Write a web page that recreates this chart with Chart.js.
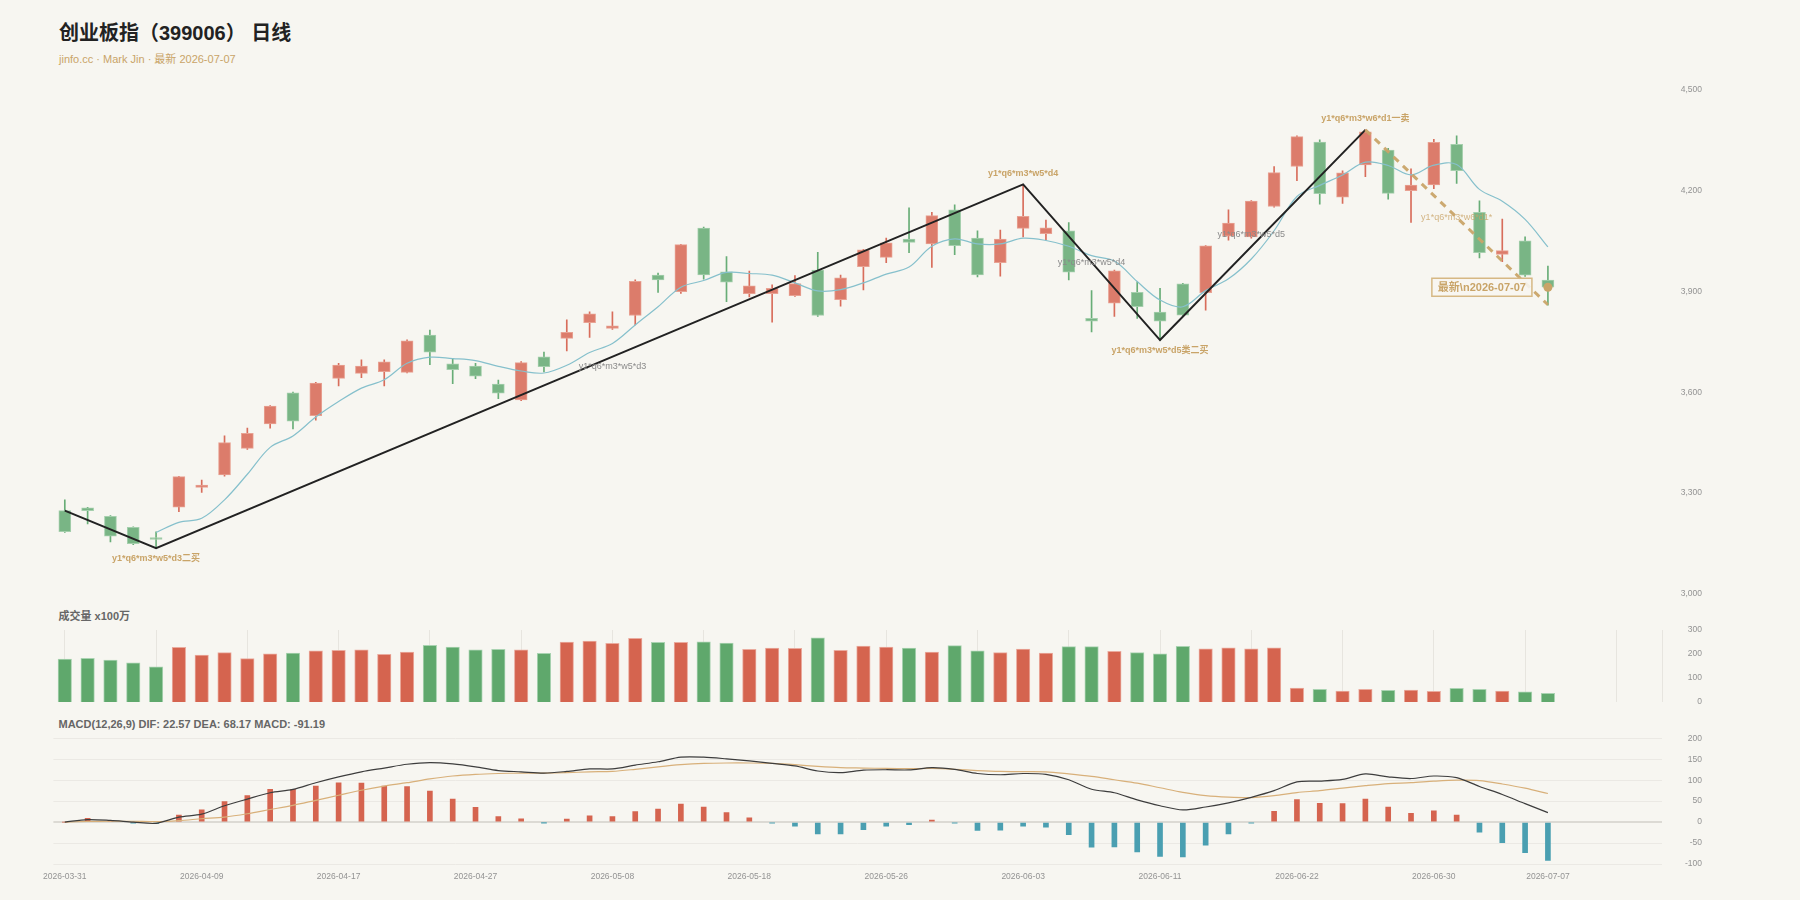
<!DOCTYPE html>
<html><head><meta charset="utf-8">
<script src="https://cdn.jsdelivr.net/npm/chart.js@4.4.1/dist/chart.umd.min.js"></script>
<style>
html,body{margin:0;padding:0;background:#f7f6f1;}
#wrap{position:relative;width:1800px;height:900px;background:#f7f6f1;font-family:"Liberation Sans","Noto Sans CJK SC",sans-serif;overflow:hidden;}
canvas{position:absolute;left:0;}
.t{position:absolute;white-space:nowrap;}
</style></head><body>
<div id="wrap">
<div class="t" style="left:59px;top:23px;font-size:20px;line-height:20px;font-weight:bold;color:#222;">创业板指（399006） 日线</div>
<div class="t" style="left:59px;top:54px;font-size:11px;line-height:11px;color:#c9a468;">jinfo.cc · Mark Jin · 最新 2026-07-07</div>
<div class="t" style="left:58.5px;top:611px;font-size:11px;line-height:11px;font-weight:bold;color:#666;">成交量 x100万</div>
<div class="t" style="left:58.5px;top:719px;font-size:11px;line-height:11px;font-weight:bold;color:#666;">MACD(12,26,9) DIF: 22.57 DEA: 68.17 MACD: -91.19</div>
<canvas id="cPrice" width="1800" height="610" style="top:0px"></canvas>
<canvas id="cVol" width="1800" height="150" style="top:590px"></canvas>
<canvas id="cMacd" width="1800" height="180" style="top:720px"></canvas>
</div>
<script>
// ---------------- data ----------------
const dates = ['2026-03-31','2026-04-01','2026-04-02','2026-04-03','2026-04-07','2026-04-08','2026-04-09','2026-04-10','2026-04-13','2026-04-14','2026-04-15','2026-04-16','2026-04-17','2026-04-20','2026-04-21','2026-04-22','2026-04-23','2026-04-24','2026-04-27','2026-04-28','2026-04-29','2026-04-30','2026-05-06','2026-05-07','2026-05-08','2026-05-11','2026-05-12','2026-05-13','2026-05-14','2026-05-15','2026-05-18','2026-05-19','2026-05-20','2026-05-21','2026-05-22','2026-05-25','2026-05-26','2026-05-27','2026-05-28','2026-05-29','2026-06-01','2026-06-02','2026-06-03','2026-06-04','2026-06-05','2026-06-08','2026-06-09','2026-06-10','2026-06-11','2026-06-12','2026-06-15','2026-06-16','2026-06-17','2026-06-18','2026-06-22','2026-06-23','2026-06-24','2026-06-25','2026-06-26','2026-06-29','2026-06-30','2026-07-01','2026-07-02','2026-07-03','2026-07-06','2026-07-07'];
const opens  = [3248,3256,3231,3198,3163,3258,3317,3354,3433,3506,3598,3530,3641,3656,3661,3659,3770,3684,3678,3624,3577,3705,3760,3807,3790,3828,3948,3899,4088,3958,3893,3893,3887,3963,3875,3973,4001,4055,4041,4142,4058,3985,4087,4071,4080,3820,3865,3897,3838,3922,3896,4064,4062,4152,4271,4344,4180,4276,4320,4199,4216,4337,4135,4010,4050,3933];
const highs  = [3280,3258,3233,3200,3185,3350,3339,3470,3493,3560,3600,3629,3686,3696,3696,3756,3785,3700,3686,3636,3691,3719,3815,3839,3839,3934,3954,4040,4091,4003,3960,3919,3947,4016,3948,4025,4058,4148,4135,4157,4080,4082,4218,4112,4104,3902,3963,3928,3909,3924,4036,4142,4170,4271,4362,4350,4258,4380,4325,4264,4352,4362,4169,4115,4062,3975];
const lows   = [3183,3208,3155,3147,3136,3245,3302,3350,3430,3493,3491,3517,3619,3643,3619,3657,3682,3625,3640,3581,3575,3660,3723,3763,3787,3800,3897,3894,3936,3869,3883,3808,3885,3825,3856,3904,3985,4015,3971,4009,3943,3945,4062,4053,3934,3779,3825,3819,3755,3826,3844,4052,4058,4150,4229,4159,4161,4241,4174,4105,4205,4221,3999,3988,3944,3859];
const closes = [3185,3248,3172,3150,3162,3349,3324,3450,3478,3559,3514,3627,3681,3678,3690,3753,3719,3667,3648,3597,3688,3676,3778,3833,3797,3930,3934,4039,3949,3927,3916,3909,3923,3828,3940,4023,4044,4045,4125,4036,3949,4055,4123,4089,3957,3811,3961,3854,3811,3829,4035,4103,4168,4253,4360,4190,4252,4374,4191,4216,4343,4259,4015,4021,3948,3912];
const ma5 = [null,null,null,null,3183,3213,3225,3280,3356,3436,3470,3526,3572,3612,3637,3686,3704,3700,3694,3677,3663,3657,3680,3718,3745,3800,3854,3912,3932,3956,3953,3948,3925,3901,3905,3925,3951,3972,4034,4056,4041,4041,4058,4051,4034,4006,3990,3929,3874,3854,3902,3937,3996,4080,4182,4215,4246,4284,4274,4246,4275,4277,4203,4168,4114,4032];
const volumes = [179,182,175,163,147,228,196,206,181,201,204,213,215,217,199,208,236,229,217,219,217,203,250,254,244,265,249,249,251,246,219,225,224,267,215,233,229,225,208,235,213,206,221,204,231,231,211,206,201,232,222,226,222,226,58,53,46,53,49,50,44,57,53,46,42,36];
const dif = [0,6,4,0,-3,12,19,39,55,70,78,94,108,120,129,138,142,139,132,123,120,117,121,127,127,136,144,155,155,151,146,140,134,122,118,124,125,124.5,130,126,116,113,116,114,101,78.5,70,53,39,29,36,46,59,75,96,98,102,115,108,104,110,106,85,66,44,22.57];
const dea = [0,1.5,2,2,1,3.5,8,12,20,30,40,52,64,76,86,94,103,110,114,116,117,117,118,120,121,126,132,137,140,141,141,140,137,133,130,129,128,127.6,128,126,123,121,120.5,120,115,109,101,93,82,71,63,59.5,58.6,63,70.5,75,81,87,92,94,97.6,100,99,91,81,68.17];
const macdHist = [0,9,3,-2,-4,17,29,49,63,78,78,86,94,93,86,85,74,55,35,13,8,-1,7,15,13,25,31,43,36,23,10,-1.5,-10,-28,-28,-18,-10,-6,5,-2,-20,-19,-10,-12,-30,-60,-59,-71,-82,-83,-55,-28,-1.5,26,54,45,44,55,36,21,27,17,-24,-49,-73,-91.19];
const xTickIdx = [0,6,12,18,24,30,36,42,48,54,60,65];
const volGridIdx = [0,4,8,12,16,20,24,28,32,36,40,44,48,52,56,60,64,68,70];
const priceTicks = [3000,3300,3600,3900,4200,4500];
const volTicks = [0,100,200,300];
const macdTicks = [-100,-50,0,50,100,150,200];
const zzIdx = [0,4,42,48,57];
const zzVal = [3248,3136,4218,3755,4380];
const dashIdx = [57,65];
const dashVal = [4380,3860];
const lblIdx  = [4,24,42,45,48,52,57,61];
const lblVal  = [3136,3677,4218,3987,3755,4068,4380,4120];
const lblText = ['y1*q6*m3*w5*d3二买','y1*q6*m3*w5*d3','y1*q6*m3*w5*d4','y1*q6*m3*w5*d4','y1*q6*m3*w5*d5类二买','y1*q6*m3*w5*d5','y1*q6*m3*w6*d1一卖','y1*q6*m3*w6*d1*'];
const lblKind = ['below','mid','above','mid','below','mid','above','faint'];
const lastLabel = '最新\\n2026-07-07';

// ---------------- styling ----------------
const FONT = '"Liberation Sans","Noto Sans CJK SC",sans-serif';
const TAN = '#c9a468';
const RED = '#d5644f', GREEN = '#5fa86c';
const RED_C = '#dc7c6b', GREEN_C = '#79b585';
const TICK_SIZE = 8.5;
const X_MIN = -0.5, X_MAX = 70;
const AXIS_W = 40, LABEL_RIGHT = 29;

const mctx = document.createElement('canvas').getContext('2d');
mctx.font = TICK_SIZE + 'px ' + FONT;
function padFor(labels){ let w=0; labels.forEach(l=>{w=Math.max(w,mctx.measureText(l).width);}); return LABEL_RIGHT - w; }

const fmtPrice = v => Number(v).toLocaleString('en-US');
const up = closes.map((c,i)=>c>=opens[i]);

function xHidden(){
  return {type:'linear', min:X_MIN, max:X_MAX, offset:false, display:false, grid:{display:false, offset:false}};
}
function yAxis(min,max,ticks,fmt,grid){
  return {
    type:'linear', position:'right', min:min, max:max,
    afterBuildTicks: s => { s.ticks = ticks.map(v=>({value:v})); },
    afterFit: s => { s.width = AXIS_W; },
    grid: Object.assign({display:false, drawTicks:false}, grid||{}),
    border:{display:false},
    ticks:{crossAlign:'far', padding: padFor(ticks.map(fmt)), color:'#939393', font:{family:FONT, size:TICK_SIZE}, callback: v=>fmt(v)}
  };
}

Chart.defaults.animation = false;
Chart.defaults.font.family = FONT;

// ---------------- annotations plugin ----------------
const annotPlugin = {
  id:'annot',
  afterDatasetsDraw(chart){
    const {ctx, scales:{x, y}} = chart;
    ctx.save();
    ctx.textAlign = 'center';
    ctx.textBaseline = 'middle';
    lblIdx.forEach((ix,k)=>{
      const px = x.getPixelForValue(ix), py = y.getPixelForValue(lblVal[k]);
      const kind = lblKind[k];
      if (kind === 'mid') { ctx.font = '9px ' + FONT; ctx.fillStyle = '#8a8a8a'; ctx.fillText(lblText[k], px, py); }
      else if (kind === 'faint') { ctx.font = '9px ' + FONT; ctx.fillStyle = 'rgba(201,164,104,0.8)'; ctx.fillText(lblText[k], px, py); }
      else {
        ctx.font = 'bold 9px ' + FONT; ctx.fillStyle = TAN;
        ctx.fillText(lblText[k], px, kind==='above' ? py-11 : py+10.5);
      }
    });
    // last marker box
    const li = closes.length-1;
    const lx = x.getPixelForValue(li), ly = y.getPixelForValue(closes[li]);
    ctx.font = 'bold 11px ' + FONT;
    const tw = ctx.measureText(lastLabel).width;
    const bw = tw + 12, bh = 18;
    const bx = lx - 16 - bw, by = ly - bh/2;
    ctx.fillStyle = 'rgba(247,246,241,0.9)';
    ctx.fillRect(bx, by, bw, bh);
    ctx.strokeStyle = '#d6b884';
    ctx.lineWidth = 1.5;
    ctx.strokeRect(bx, by, bw, bh);
    ctx.fillStyle = TAN;
    ctx.fillText(lastLabel, bx + bw/2, ly + 0.5);
    ctx.restore();
  }
};

// ---------------- price chart ----------------
new Chart(document.getElementById('cPrice'), {
  type:'bar',
  data:{ datasets:[
    { type:'bar', label:'wick', data: highs.map((h,i)=>({x:i, y:[lows[i], h]})),
      backgroundColor: up.map(u=>u?'#d86d5b':'#68ad77'), barThickness:1, grouped:false, order:6 },
    { type:'bar', label:'body', data: opens.map((o,i)=>({x:i, y:[o, closes[i]]})),
      backgroundColor: up.map(u=>u?RED_C:GREEN_C), borderColor: up.map(u=>u?'#e8a293':'#a5cfad'),
      borderWidth:1, borderSkipped:false, barThickness:12, grouped:false, minBarLength:2, order:5 },
    { type:'line', label:'MA5', data: ma5.map((v,i)=>({x:i,y:v})).filter(d=>d.y!==null),
      borderColor:'#86c0cc', borderWidth:1.2, pointRadius:0, tension:0.35, order:4 },
    { type:'line', label:'zigzag', data: zzIdx.map((ix,k)=>({x:ix,y:zzVal[k]})),
      borderColor:'#222', borderWidth:2, pointRadius:0, tension:0, order:3 },
    { type:'line', label:'dash', data: dashIdx.map((ix,k)=>({x:ix,y:dashVal[k]})),
      borderColor:'rgba(201,164,104,0.95)', borderWidth:3, borderDash:[7,6], pointRadius:0, tension:0, order:2 },
    { type:'line', label:'last', data:[{x:closes.length-1, y:closes[closes.length-1]}],
      showLine:false, pointRadius:4.5, pointBackgroundColor:TAN, pointBorderColor:TAN, pointBorderWidth:0, order:1 }
  ]},
  options:{
    responsive:false, animation:false,
    layout:{padding:{left:53.4, top:89.5, bottom:16, right:1800-1662-AXIS_W}},
    plugins:{legend:{display:false}, tooltip:{enabled:false}},
    scales:{ x: xHidden(), y: yAxis(3000,4500,priceTicks,fmtPrice) }
  },
  plugins:[annotPlugin]
});

// ---------------- volume chart ----------------
new Chart(document.getElementById('cVol'), {
  type:'bar',
  data:{ datasets:[
    { data: volumes.map((v,i)=>({x:i,y:v})), backgroundColor: up.map(u=>u?RED:GREEN),
      borderColor: up.map(u=>u?'#eaab9e':'#a9d3b1'), borderWidth:1, barThickness:13.5, grouped:false }
  ]},
  options:{
    responsive:false, animation:false,
    layout:{padding:{left:53.4, top:40, bottom:38, right:1800-1662-AXIS_W}},
    plugins:{legend:{display:false}, tooltip:{enabled:false}},
    scales:{
      x:{type:'linear', min:X_MIN, max:X_MAX, offset:false, display:true,
         afterBuildTicks: s => { s.ticks = volGridIdx.map(v=>({value:v})); },
         afterFit: s => { s.height = 0; },
         grid:{display:true, drawTicks:false, offset:false, color:'#e7e5df', lineWidth:1},
         border:{display:false}, ticks:{display:false}},
      y: yAxis(0,300,volTicks,v=>String(v))
    }
  }
});

// ---------------- MACD chart ----------------
new Chart(document.getElementById('cMacd'), {
  type:'bar',
  data:{ datasets:[
    { type:'line', label:'DIF', data: dif.map((v,i)=>({x:i,y:v})), borderColor:'#3d3d3d', borderWidth:1.2, pointRadius:0, tension:0.3, order:1 },
    { type:'line', label:'DEA', data: dea.map((v,i)=>({x:i,y:v})), borderColor:'#d8b07a', borderWidth:1.2, pointRadius:0, tension:0.3, order:2 },
    { type:'bar', label:'MACD', data: macdHist.map((v,i)=>({x:i,y:v})), backgroundColor: macdHist.map(v=>v>=0?RED:'#4a9fb1'),
      barThickness:5, grouped:false, order:3 }
  ]},
  options:{
    responsive:false, animation:false,
    layout:{padding:{left:53.4, top:18.3, bottom:12, right:1800-1662-AXIS_W}},
    plugins:{legend:{display:false}, tooltip:{enabled:false}},
    scales:{
      x:{type:'linear', min:X_MIN, max:X_MAX, offset:false, display:true,
         afterBuildTicks: s => { s.ticks = xTickIdx.map(v=>({value:v})); },
         afterFit: s => { s.height = 24; },
         grid:{display:false, drawTicks:false, offset:false}, border:{display:false},
         ticks:{autoSkip:false, maxRotation:0, minRotation:0, padding:8, color:'#939393', font:{family:FONT, size:TICK_SIZE}, callback: v=>dates[v]||''}},
      y: yAxis(-100,200,macdTicks,v=>String(v),{display:true,
           color: c => c.tick && c.tick.value===0 ? '#dcdad4' : '#ebe9e4',
           lineWidth: c => c.tick && c.tick.value===0 ? 2 : 1})
    }
  }
});
</script>
</body></html>
